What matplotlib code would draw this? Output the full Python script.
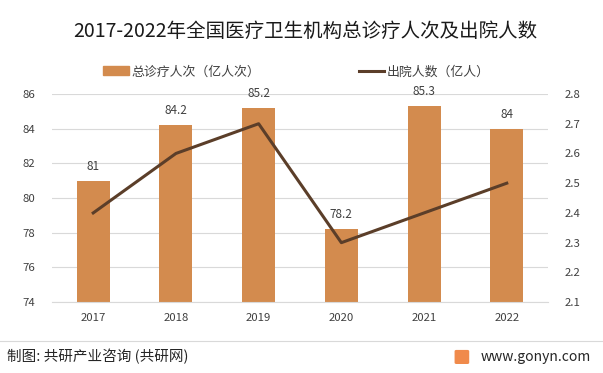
import matplotlib
matplotlib.use('Agg')
import matplotlib.pyplot as plt
from matplotlib.lines import Line2D
from matplotlib.patches import Patch, FancyBboxPatch

plt.rcParams['font.family'] = ['Noto Sans CJK SC', 'DejaVu Sans']

# data
years = ['2017', '2018', '2019', '2020', '2021', '2022']
visits = [81, 84.2, 85.2, 78.2, 85.3, 84]          # 总诊疗人次（亿人次）
discharged = [2.4, 2.6, 2.7, 2.3, 2.4, 2.5]        # 出院人数（亿人）

bar_color = '#D38B4E'
line_color = '#5B3E29'
text_color = '#404040'

fig = plt.figure(figsize=(6.03, 3.73), dpi=100)
ax = fig.add_axes([0.086, 0.190, 0.823, 0.558])
x = range(len(years))

ax.bar(x, visits, width=0.4, color=bar_color, zorder=2)
ax.set_ylim(74, 86)
ax.set_yticks(range(74, 87, 2))
ax.set_xlim(-0.5, len(years) - 0.5)
ax.set_xticks(list(x))
ax.set_xticklabels(years)
ax.grid(axis='y', color='#D9D9D9', linewidth=0.8, zorder=0)
for i, v in enumerate(visits):
    ax.text(i, v + 0.45, f'{v:g}', ha='center', va='bottom', fontsize=8.5, color=text_color)

ax2 = ax.twinx()
ax2.plot(list(x), discharged, color=line_color, linewidth=2.2, zorder=3)
ax2.set_ylim(2.1, 2.8)
ax2.set_yticks([2.1, 2.2, 2.3, 2.4, 2.5, 2.6, 2.7, 2.8])

for a in (ax, ax2):
    for s in a.spines.values():
        s.set_visible(False)
    a.tick_params(length=0, labelsize=8.2, labelcolor=text_color)
ax.spines['bottom'].set_visible(True)
ax.spines['bottom'].set_color('#D9D9D9')
ax.tick_params(axis='x', pad=8)
ax.tick_params(axis='y', pad=12)
ax2.tick_params(axis='y', pad=12)

fig.text(0.507, 0.915, '2017-2022年全国医疗卫生机构总诊疗人次及出院人数',
         ha='center', va='center', fontsize=14, color='#1a1a1a')

handles = [Patch(color=bar_color), Line2D([0], [0], color=line_color, linewidth=2.2)]
labels = ['总诊疗人次（亿人次）', '出院人数（亿人）']
fig.legend(handles, labels, loc='center', bbox_to_anchor=(0.492, 0.807), ncol=2,
           frameon=False, fontsize=9.3, columnspacing=7.6, handlelength=2.0,
           handletextpad=0.2, labelcolor=text_color)

# footer
fig.add_artist(Line2D([0, 1], [0.086, 0.086], color='#D9D9D9', linewidth=0.8))
fig.text(0.012, 0.043, '制图: 共研产业咨询 (共研网)', ha='left', va='center',
         fontsize=10.5, color='#262626')
fig.text(0.98, 0.043, 'www.gonyn.com', ha='right', va='center',
         fontsize=10, color='#262626')
fig.add_artist(FancyBboxPatch((0.757, 0.028), 0.018, 0.03,
                              boxstyle='round,pad=0.002', color='#F08A4B',
                              transform=fig.transFigure))

fig.savefig('out.png', dpi=100)
